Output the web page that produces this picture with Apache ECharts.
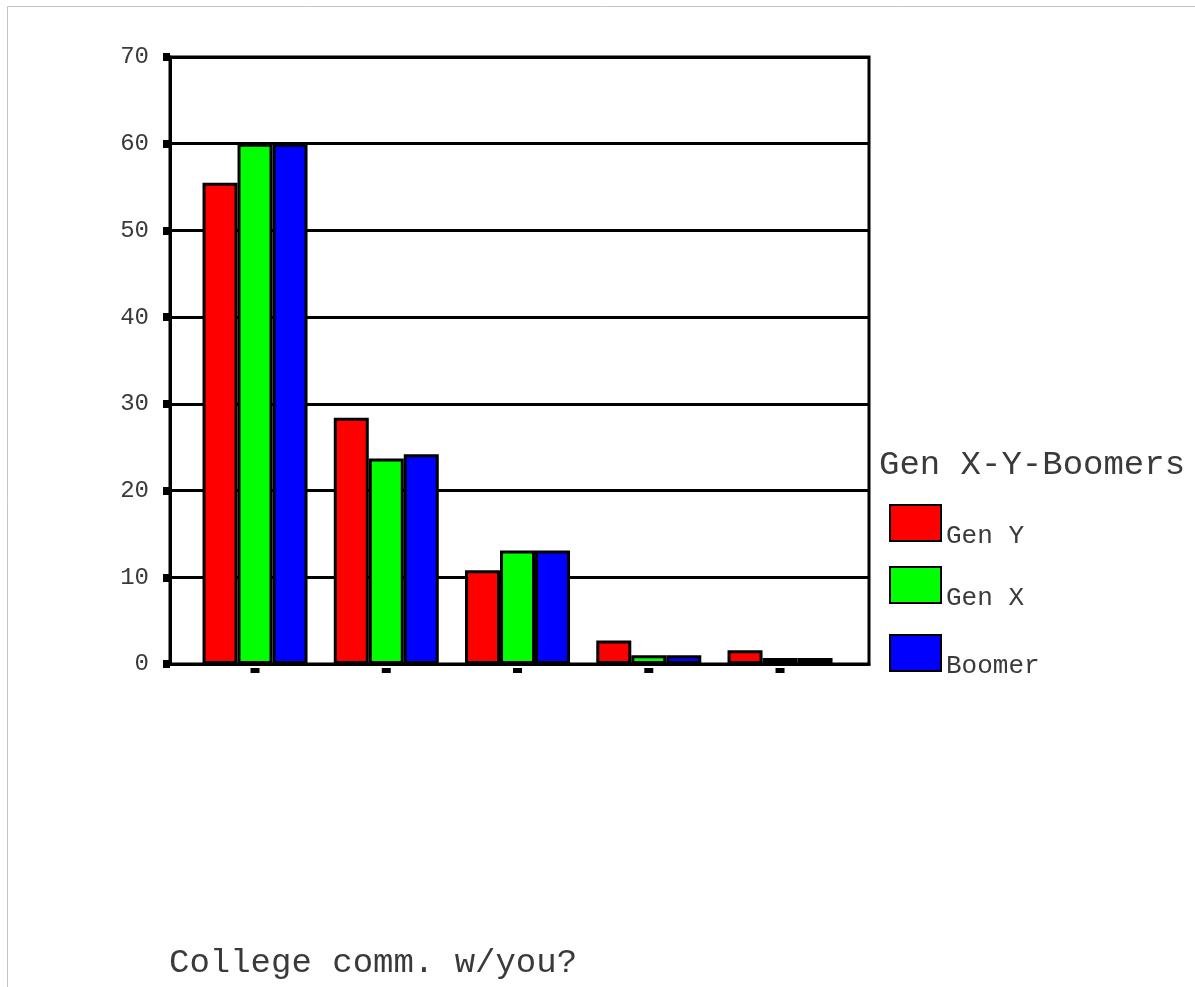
<!DOCTYPE html>
<html>
<head>
<meta charset="utf-8">
<title>College comm. w/you?</title>
<script src="https://cdn.jsdelivr.net/npm/echarts@6/dist/echarts.min.js"></script>
<style>
  html, body { margin: 0; padding: 0; background: #fff; }
  #chart { width: 1195px; height: 987px; }
</style>
</head>
<body>
<div id="chart"></div>
<script>
// Survey answers per group (percent of respondents), five answer categories
const categories = ['1', '2', '3', '4', '5'];
const genY = [55.5, 28.4, 10.8, 2.7, 1.6];
const genX = [60.0, 23.7, 13.1, 1.0, 0.7];
const boomer = [60.0, 24.2, 13.1, 1.0, 0.7];
const seriesNames = ['Gen Y', 'Gen X', 'Boomer'];
const yTicks = [0, 10, 20, 30, 40, 50, 60, 70];

const MONO = '"Liberation Mono", "DejaVu Sans Mono", monospace';
const BLACK = '#000';
const TEXT = '#3a3a3a';

const chart = echarts.init(document.getElementById('chart'), null, { renderer: 'canvas' });

function barSeries(name, data, color) {
  return {
    name: name,
    type: 'bar',
    xAxisIndex: 1,
    yAxisIndex: 1,
    data: data,
    barWidth: 35,
    barGap: '0%',
    itemStyle: { color: color, borderColor: BLACK, borderWidth: 3 },
    emphasis: { disabled: true }
  };
}

// one legend box per entry, so each row sits at its own height
const legendTops = [504, 566, 634];
const legends = seriesNames.map((name, i) => ({
  orient: 'vertical',
  left: 889, top: legendTops[i],
  padding: 0,
  icon: 'rect',
  itemWidth: 51,
  itemHeight: 36,
  selectedMode: false,
  formatter: '{t|{name}}',
  textStyle: {
    fontFamily: MONO, fontSize: 26, color: TEXT,
    rich: { t: { fontFamily: MONO, fontSize: 26, color: TEXT, padding: [27, 0, 0, 0] } }
  },
  data: [name]
}));

chart.setOption({
  backgroundColor: '#fff',
  animation: false,
  title: [
    {
      text: 'Gen X-Y-Boomers',
      left: 879, top: 448,
      padding: 0,
      textStyle: { fontFamily: MONO, fontSize: 34, fontWeight: 'normal', color: TEXT }
    },
    {
      text: 'College comm. w/you?',
      left: 169, top: 946,
      padding: 0,
      textStyle: { fontFamily: MONO, fontSize: 34, fontWeight: 'normal', color: TEXT }
    }
  ],
  legend: legends,
  graphic: [
    {
      type: 'rect',
      shape: { x: 7.5, y: 6.5, width: 1200, height: 1000 },
      style: { fill: 'none', stroke: '#c4c4c4', lineWidth: 1 },
      silent: true
    }
  ],
  grid: [
    // frame, value axis and gridlines
    { left: 170, right: 326, top: 57, bottom: 323, show: true, borderColor: BLACK, borderWidth: 3, backgroundColor: 'transparent' },
    // bar placement area
    { left: 189.4, width: 656.25, top: 57, bottom: 323 }
  ],
  xAxis: [
    {
      gridIndex: 0, type: 'category', data: categories,
      axisLine: { show: true, lineStyle: { color: BLACK, width: 3 } },
      axisTick: { show: false }, axisLabel: { show: false }, splitLine: { show: false }
    },
    {
      gridIndex: 1, type: 'category', data: categories,
      axisLine: { show: false }, axisTick: { show: false },
      axisLabel: {
        margin: 4,
        formatter: () => '{s| }',
        rich: { s: { width: 9, height: 5, lineHeight: 5, fontSize: 1, backgroundColor: BLACK } }
      }
    }
  ],
  yAxis: [
    {
      gridIndex: 0, type: 'value', min: yTicks[0], max: yTicks[yTicks.length - 1], interval: 10,
      axisLine: { show: true, lineStyle: { color: BLACK, width: 3 } },
      axisTick: { show: true, inside: false, length: 7, lineStyle: { color: BLACK, width: 8 } },
      axisLabel: { margin: 21, fontFamily: MONO, fontSize: 24, color: TEXT },
      splitLine: { show: true, lineStyle: { color: BLACK, width: 3 } }
    },
    {
      gridIndex: 1, type: 'value', min: yTicks[0], max: yTicks[yTicks.length - 1], interval: 10,
      show: false
    }
  ],
  series: [
    barSeries(seriesNames[0], genY, '#ff0000'),
    barSeries(seriesNames[1], genX, '#00ff00'),
    barSeries(seriesNames[2], boomer, '#0000ff')
  ]
});
</script>
</body>
</html>
